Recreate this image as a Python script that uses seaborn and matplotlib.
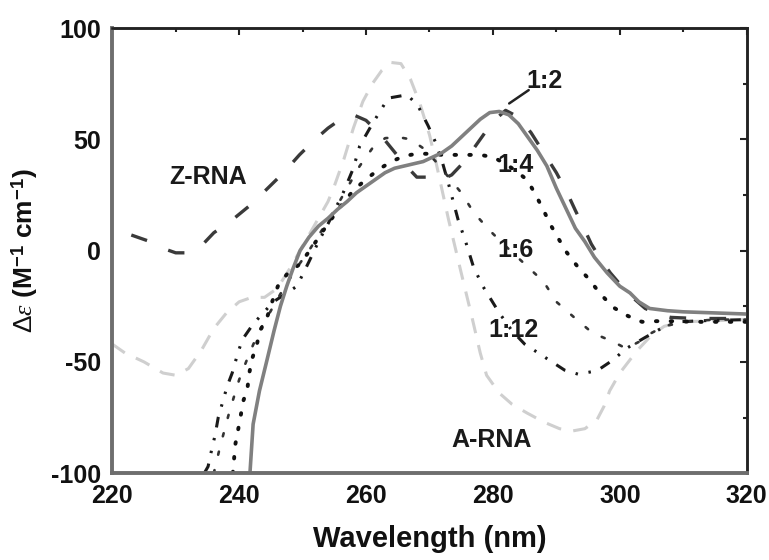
import matplotlib
matplotlib.use("Agg")
import matplotlib.pyplot as plt
import numpy as np
import pandas as pd
import seaborn as sns
from matplotlib.ticker import MultipleLocator

# CD spectra (wavelength nm, delta epsilon)
z_rna_x = [223, 226, 228, 230, 232, 234, 236, 239, 242, 244.5, 247, 249.5, 252, 254, 256, 258, 260, 262, 264,
           266, 268, 270, 272, 273.5, 275.5, 278, 280, 282, 284, 286, 288, 290, 291.7, 293, 294.2, 295.5, 297,
           298.5, 300, 302, 304, 306, 308, 312, 320]
z_rna_y = [7, 4, 1, -1, -1, 2, 8, 14, 21, 28, 35, 43, 50, 55, 59, 61, 58.5, 53, 46,
           39, 33, 33, 32, 34, 40, 50, 58, 63, 60, 53, 44, 35, 26, 18, 11, 3, -4,
           -10, -15, -21, -26, -28.5, -30, -30.5, -30.5]

r12_x = [241.7, 242.2, 243.2, 244.4, 245.5, 246.5, 247.5, 248.5, 249.6, 251, 252.5, 254, 255.5, 257, 258.5, 260,
         261.5, 263, 264.5, 266, 267.5, 269, 270.5, 272, 273.5, 275, 276.5, 278, 279.5, 281, 282.5, 284, 285.5,
         287, 288.5, 290, 291.5, 293, 294.5, 296, 298, 300, 301.6, 303, 304.7, 307.5, 310, 315, 320]
r12_y = [-100, -78, -63, -49, -36, -25, -16, -8, 0, 6, 11, 14.5, 18.5, 22, 26, 29,
         32, 35, 37, 38, 39, 40, 42, 44, 47, 51, 55, 59, 62, 62.5, 61, 57, 51,
         45, 38, 28, 19, 10, 4, -3, -10, -16, -19, -23, -26, -27, -27.5, -28, -28.5]

r14_x = [239, 239.4, 239.8, 240.2, 240.6, 241.3, 241.6, 242, 242.8, 243.3, 244.4, 245.2, 246.1, 247.7, 249.6,
         251.5, 253, 254.5, 256, 258, 260, 262, 264, 266, 268, 270, 272, 274, 276, 278, 280, 282, 284, 285.4,
         286.6, 287.9, 289, 290.2, 291.6, 293.4, 295.2, 296.8, 298.9, 301.3, 303.5, 305.8, 308.2, 312, 320]
r14_y = [-100, -87, -81, -75, -68, -62, -55, -49, -42, -36, -30, -23, -16, -10, -6,
         1.5, 8, 14, 20, 27, 32, 36.5, 40, 42.5, 43.5, 43.5, 43, 43, 43, 43, 42, 39, 35, 31.7,
         25.8, 18.6, 12, 6, -0.7, -7.4, -13, -19, -25.4, -29.4, -32, -31.7, -31.7, -32, -32]

r16_x = [236, 237, 238.5, 240, 241.5, 243, 245, 247, 249, 251, 253, 255, 257, 259, 261, 263, 265, 267, 269,
         271, 273, 275, 277, 279.5, 282, 285, 288, 290, 293, 295.7, 299, 301, 303, 305, 307, 310, 315, 320]
r16_y = [-100, -88, -72, -58, -47, -37, -27, -17, -8, 0, 9, 18, 28, 38, 46, 50.5, 51, 50, 46,
         40, 33, 26, 17, 9, 2, -6, -14, -23, -30.5, -37, -41, -44, -41, -37, -34, -32, -31, -31]

r112_x = [234.5, 235.1, 235.7, 236.2, 236.7, 237.5, 238.1, 238.9, 239.8, 240.5, 242.2, 243.8, 245.4, 247, 249.1,
          251, 252.5, 254, 256.4, 258, 259, 261, 263.5, 266.5, 268.2, 269.8, 270.9, 272, 273, 274.5, 275.7,
          276.9, 278.3, 281, 283, 285, 288.5, 291.3, 293.4, 296.4, 299, 301, 304, 306.5, 309, 313, 320]
r112_y = [-100, -97, -89, -83, -75, -67, -61, -55, -46, -40, -33, -28, -23, -20, -16,
          -5, 4, 12, 26, 37, 47, 57, 68.5, 70, 65, 56, 49, 40, 30, 14, 4,
          -7, -15.5, -28, -36, -42, -48.5, -53.7, -55.5, -54, -49, -44, -39, -35, -32, -31.5, -31]

a_rna_x = [220, 222, 225, 228, 230, 232, 234, 236, 238, 240, 242, 244, 246, 248, 250, 252, 254, 255, 256.5, 258,
           259.5, 261, 262.5, 264, 265.5, 267, 268.5, 270, 271, 272, 273, 274, 275, 276.7, 278, 279, 281, 283,
           285.4, 288, 290.5, 292.6, 294.5, 296.4, 297.5, 298.4, 300, 302.7, 305, 307, 310, 320]
a_rna_y = [-42, -46, -50, -55, -56, -53, -45, -35, -28, -23, -21, -21, -17, -8, 2, 12, 22, 29, 41, 55,
           67, 75, 81, 84.5, 84, 77, 66, 52, 40, 27, 14, 2, -10, -30, -46, -56, -64, -69,
           -73, -77, -80, -81, -80, -76, -70, -63, -55, -45, -38, -34, -32, -31]

labels = ["Z-RNA", "1:2", "1:4", "1:6", "1:12", "A-RNA"]
label_x = [235.1, 288.2, 283.5, 283.5, 283.2, 279.8]
label_y = [33, 76, 38.5, 0.2, -35.7, -85]

sns.set_theme(style="white")
plt.rcParams["font.family"] = ["Liberation Sans", "DejaVu Sans"]
plt.rcParams["axes.unicode_minus"] = False
plt.rcParams["mathtext.fontset"] = "custom"
plt.rcParams["mathtext.rm"] = "Liberation Sans"
plt.rcParams["mathtext.bf"] = "Liberation Sans:bold"
plt.rcParams["mathtext.it"] = "Liberation Serif:italic"

fig = plt.figure(figsize=(7.69, 5.6), dpi=100)
ax = fig.add_axes([0.146, 0.155, 0.825, 0.795])

series = [
    (a_rna_x, a_rna_y, "#cfcfcf", 2.2, (0, (5, 4)), "butt"),
    (z_rna_x, z_rna_y, "#3a3a3a", 2.4, (0, (5, 7)), "butt"),
    (r112_x, r112_y, "#1a1a1a", 2.2, (0, (3.5, 3.5, 0.8, 3.5, 0.8, 3.5)), "butt"),
    (r16_x, r16_y, "#333333", 1.9, (0, (1.2, 6)), "round"),
    (r14_x, r14_y, "#111111", 2.8, (0, (0.4, 3.4)), "round"),
    (r12_x, r12_y, "#808080", 2.6, "-", "butt"),
]
for xs, ys, col, lw, ls, cap in series:
    df = pd.DataFrame({"wl": xs, "de": ys})
    sns.lineplot(data=df, x="wl", y="de", ax=ax, color=col, linewidth=lw, linestyle=ls,
                 sort=False, estimator=None, dash_capstyle=cap)

for txt, lx, ly in zip(labels, label_x, label_y):
    ax.text(lx, ly, txt, fontsize=18, fontweight="bold", ha="center", va="center", color="#1a1a1a")
ax.annotate("", xy=(282.2, 65.4), xytext=(286, 72.8),
            arrowprops=dict(arrowstyle="-", color="#222222", lw=1.8))

ax.set_xlim(220, 320)
ax.set_ylim(-100, 100)
ax.set_xticks([220, 240, 260, 280, 300, 320])
ax.set_yticks([-100, -50, 0, 50, 100])
ax.xaxis.set_minor_locator(MultipleLocator(10))
ax.yaxis.set_minor_locator(MultipleLocator(25))
ax.tick_params(which="both", direction="out", color="#333333", width=1.5,
               labelsize=18, labelcolor="#111111", pad=3)
ax.tick_params(which="major", length=5)
ax.tick_params(which="minor", length=3)
for lab in ax.get_xticklabels() + ax.get_yticklabels():
    lab.set_fontweight("bold")

top = ax.secondary_xaxis("top")
top.set_xticks([220, 240, 260, 280, 300, 320])
top.xaxis.set_minor_locator(MultipleLocator(10))
top.tick_params(which="both", direction="in", labeltop=False, color="#222222", width=1.5)
top.tick_params(which="major", length=5)
top.tick_params(which="minor", length=3)
right = ax.secondary_yaxis("right")
right.set_yticks([-100, -50, 0, 50, 100])
right.yaxis.set_minor_locator(MultipleLocator(25))
right.tick_params(which="both", direction="in", labelright=False, color="#222222", width=1.5)
right.tick_params(which="major", length=5)
right.tick_params(which="minor", length=3)
for s in [top.spines["top"], right.spines["right"]]:
    s.set_color("#222222")
    s.set_linewidth(1.8)

for side, col, w in [("left", "#6e6e6e", 2.8), ("bottom", "#6e6e6e", 2.8), ("top", "#222222", 1.8), ("right", "#222222", 1.8)]:
    ax.spines[side].set_visible(True)
    ax.spines[side].set_color(col)
    ax.spines[side].set_linewidth(w)

ax.set_xlabel("Wavelength (nm)", fontsize=21, fontweight="bold", labelpad=12, color="#111111")
ax.set_ylabel(r"$\Delta\varepsilon$ (M$^{\mathbf{-1}}$ cm$^{\mathbf{-1}}$)", fontsize=19, fontweight="bold",
              labelpad=8, color="#111111")

fig.savefig("out.png", dpi=100)
